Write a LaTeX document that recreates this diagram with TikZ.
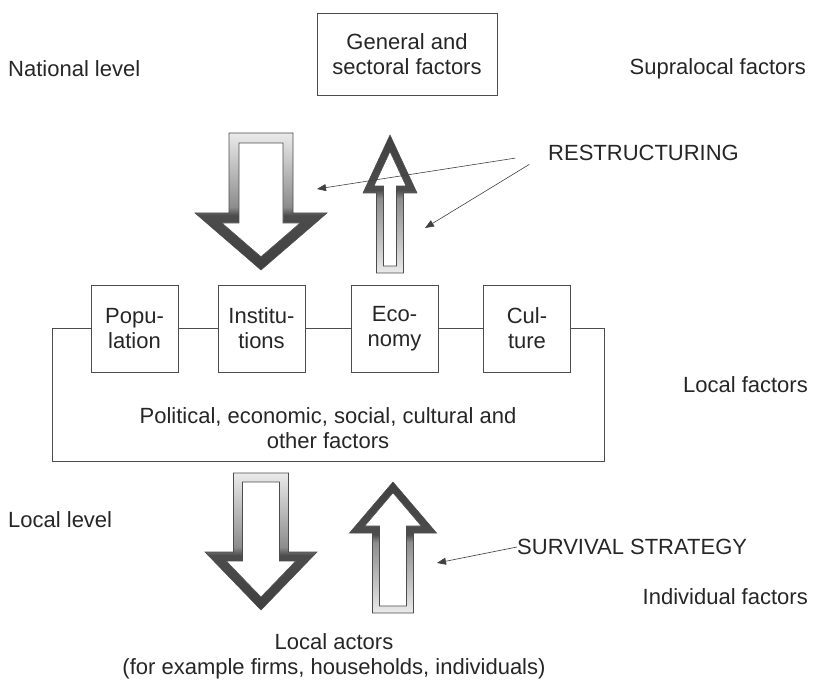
\documentclass[tikz,border=0pt]{standalone}
\usepackage{fontspec}
\setmainfont{Liberation Sans}
\usetikzlibrary{arrows.meta}

% dark head, fading tail
\pgfdeclareverticalshading{arrowshade}{100bp}{color(0bp)=(black!75); color(25bp)=(black!75); color(45bp)=(black!70); color(48bp)=(black!45); color(75bp)=(black!8); color(100bp)=(black!8)}

% x, tail y, head base y, tip y, shaft half width, head half width, border
\newcommand{\hollowarrow}[7]{%
  \pgfmathsetmacro{\arrsgn}{sign(#4-#2)}%
  \pgfmathsetmacro{\arrlen}{abs(#4-#3)}%
  \pgfmathsetmacro{\intail}{#2+(\arrsgn)*#7}%
  \pgfmathsetmacro{\inbase}{#3+(\arrsgn)*#7}%
  \pgfmathsetmacro{\intip}{#4-(\arrsgn)*#7*sqrt((#6)^2+(\arrlen)^2)/(#6)}%
  \pgfmathsetmacro{\inhead}{(#6)*abs(\intip-\inbase)/\arrlen}%
  \pgfmathsetmacro{\inshaft}{#5-#7}%
  \pgfmathsetmacro{\arrang}{90-90*(\arrsgn)}%
  \path[arrowring, shading angle=\arrang] ({#1-#5},#2) -- ({#1+#5},#2) -- ({#1+#5},#3) -- ({#1+#6},#3) -- (#1,#4) -- ({#1-#6},#3) -- ({#1-#5},#3) -- cycle;
  \path[arrowhole] ({#1-\inshaft},\intail) -- ({#1+\inshaft},\intail) -- ({#1+\inshaft},\inbase) -- ({#1+\inhead},\inbase) -- (#1,\intip) -- ({#1-\inhead},\inbase) -- ({#1-\inshaft},\inbase) -- cycle;
}

\begin{document}
\begin{tikzpicture}[x=1pt, y=-1pt,
    every node/.style={font={\fontsize{22}{25}\selectfont}, text=black!85, inner sep=0pt},
    box/.style={draw=black!70, line width=0.7pt, minimum width=87pt, minimum height=87pt, align=center},
    arrowring/.style={shading=arrowshade, draw=black!70, line width=0.6pt},
    arrowhole/.style={fill=white, draw=black!70, line width=0.6pt},
    pointer/.style={draw=black!75, line width=0.6pt, -{Triangle[length=9pt, width=7pt]}}]
    \useasboundingbox (0,0) rectangle (814,684);

    % levels and factors
    \node[anchor=west] (natl) at (8,69) {National level};
    \node[anchor=west] (locl) at (8,520) {Local level};
    \node[anchor=east] (supra) at (806,69) {Supralocal factors};
    \node[anchor=east] (locf) at (808,385) {Local factors};
    \node[anchor=east] (indf) at (808,597) {Individual factors};

    \node[box, minimum width=180pt, minimum height=82pt] (general) at (407,54) {General and\\sectoral factors};

    % big arrows
    \hollowarrow{261}{133}{213}{270}{32}{66}{10}
    \hollowarrow{390}{273}{193}{135}{13.5}{27}{7}
    \hollowarrow{261}{473}{552}{610}{27.5}{56}{9}
    \hollowarrow{393}{613}{533}{482}{20.5}{43.5}{7}

    % local factors
    \node[box] (pop) at (134.5,328.5) {Popu-\\lation};
    \node[box] (inst) at (261.5,328.5) {Institu-\\tions};
    \node[box] (econ) at (394.5,328.5) {Eco-\\nomy};
    \node[box] (cult) at (527,328.5) {Cul-\\ture};
    \coordinate (fsw) at (52,461);
    \coordinate (fse) at (604,461);
    \draw[draw=black!70, line width=0.7pt] (pop) -- (inst) -- (econ) -- (cult);
    \draw[draw=black!70, line width=0.7pt] (pop.west) -| (fsw) -- (fse) |- (cult.east);
    \node[align=center] (fact) at (328,428.5) {Political, economic, social, cultural and\\other factors};

    \node[align=center] (actors) at (334,656.5) {Local actors\\(for example firms, households, individuals)};

    % labels with pointers
    \node[anchor=west] (restr) at (548,153) {RESTRUCTURING};
    \node[anchor=west] (surv) at (517,547) {SURVIVAL STRATEGY};
    \coordinate (restrA) at (317,189);
    \coordinate (restrB) at (425,228);
    \coordinate (survA) at (437,563);
    \draw[pointer, shorten <=33pt] (restr.west) -- (restrA);
    \draw[pointer, shorten <=22pt] (restr.west) -- (restrB);
    \draw[pointer] (surv.west) -- (survA);
\end{tikzpicture}
\end{document}
